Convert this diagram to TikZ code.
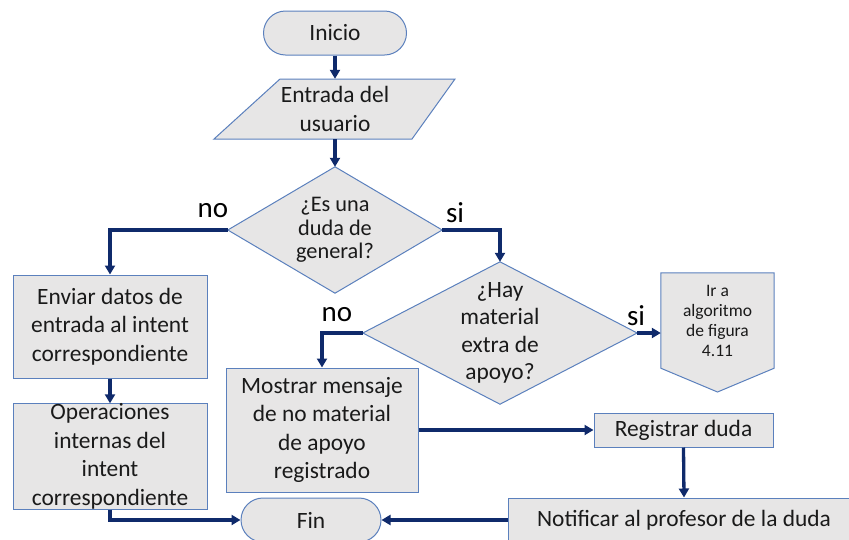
\documentclass[tikz,border=0pt]{standalone}
\usepackage{fontspec}
\setmainfont{Carlito}
\usetikzlibrary{arrows.meta}
\definecolor{boxfill}{HTML}{E7E6E6}
\definecolor{boxline}{HTML}{5B80BD}
\definecolor{arrowc}{HTML}{0F2A6B}
\definecolor{txt}{HTML}{1A1A1A}
\tikzset{
  x=1pt, y=-1pt,
  shp/.style={draw=boxline, fill=boxfill, line width=1pt},
  boxnode/.style={shp, rectangle, inner sep=0pt, align=center, text=txt,
    font=\fontsize{23.4}{28.5}\selectfont},
  hidden/.style={rectangle, inner sep=0pt, align=center, text=txt,
    font=\fontsize{23.4}{28.5}\selectfont},
  term/.style={boxnode, rounded corners=22pt, minimum height=44pt},
  conn/.style={draw=arrowc, line width=3.3pt},
  arr/.style={conn, -{Triangle[length=9pt,width=10pt]}},
  lbl/.style={text=black, font=\fontsize{29}{32}\selectfont, inner sep=0pt}
}
\begin{document}
\begin{tikzpicture}
\useasboundingbox (0,0) rectangle (849,539);
\clip (0,0) rectangle (849,539);

% Inicio
\node[term, minimum width=143pt] (ini) at (335,33) {Inicio};

% Entrada del usuario (parallelogram)
\draw[shp] (280,79) -- (455,79) -- (412,139) -- (214,139) -- cycle;
\node[hidden, minimum height=60pt] (inp) at (335,109) {Entrada del\\usuario};

% Diamond 1
\node[hidden, minimum width=214pt, minimum height=126pt] (d1) at (335,230) {};
\draw[shp] (d1.north) -- (d1.east) -- (d1.south) -- (d1.west) -- cycle;
\node[hidden, font=\fontsize{22.3}{23.5}\selectfont] (d1t) at (d1.center) {¿Es una\\duda de\\general?};

% Diamond 2
\node[hidden, minimum width=274pt, minimum height=142pt] (d2) at (500,333) {};
\draw[shp] (d2.north) -- (d2.east) -- (d2.south) -- (d2.west) -- cycle;
\node[hidden, font=\fontsize{23.4}{27.5}\selectfont] (d2t) at (d2.center) {¿Hay\\material\\extra de\\apoyo?};

% Off-page connector
\node[hidden, minimum width=113pt, minimum height=95pt] (off) at (717.5,320.5) {};
\coordinate (offtip) at (717.5,392);
\draw[shp] (off.north west) -- (off.north east) -- (off.south east) -- (offtip) -- (off.south west) -- cycle;
\node[hidden, font=\fontsize{17.5}{20}\selectfont] (offt) at (off.center) {Ir a\\algoritmo\\de figura\\4.11};

% Left boxes
\node[boxnode, minimum width=194pt, minimum height=103pt] (b1) at (110,326.5)
  {Enviar datos de\\entrada al intent\\correspondiente};
\node[boxnode, minimum width=194pt, minimum height=103pt] (b2) at (110,456.5)
  {Operaciones\\internas del\\intent\\correspondiente};

% Mostrar
\node[boxnode, minimum width=192pt, minimum height=124pt] (mos) at (322,430)
  {Mostrar mensaje\\de no material\\de apoyo\\registrado};

% Registrar
\node[boxnode, minimum width=179pt, minimum height=34pt] (reg) at (683.5,430) {Registrar duda};

% Notificar
\node[boxnode, minimum width=352pt, minimum height=44pt] (notif) at (684,520) {Notificar al profesor de la duda};

% Fin
\node[term, minimum width=140pt] (fin) at (311,520) {Fin};

% Connectors
\draw[arr] (ini.south) -- (inp.north);
\draw[arr] (inp.south) -- (d1.north);
\draw[arr] (d1.west) -| (b1.north);
\draw[arr] (d1.east) -| (d2.north);
\draw[arr] (d2.west) -| (mos.north);
\draw[arr] (d2.east) -- (d2.east -| off.west);
\draw[arr] (b1.south) -- (b2.north);
\draw[arr] (b2.south) |- (fin.west);
\draw[arr] (mos.east) -- (reg.west);
\draw[arr] (reg.south) -- (notif.north);
\draw[arr] (notif.west) -- (fin.east);

% Labels
\node[lbl] (lno1) at (213,211) {no};
\node[lbl] (lsi1) at (455,213) {si};
\node[lbl] (lno2) at (337,315) {no};
\node[lbl] (lsi2) at (636,316) {si};
\end{tikzpicture}
\end{document}
